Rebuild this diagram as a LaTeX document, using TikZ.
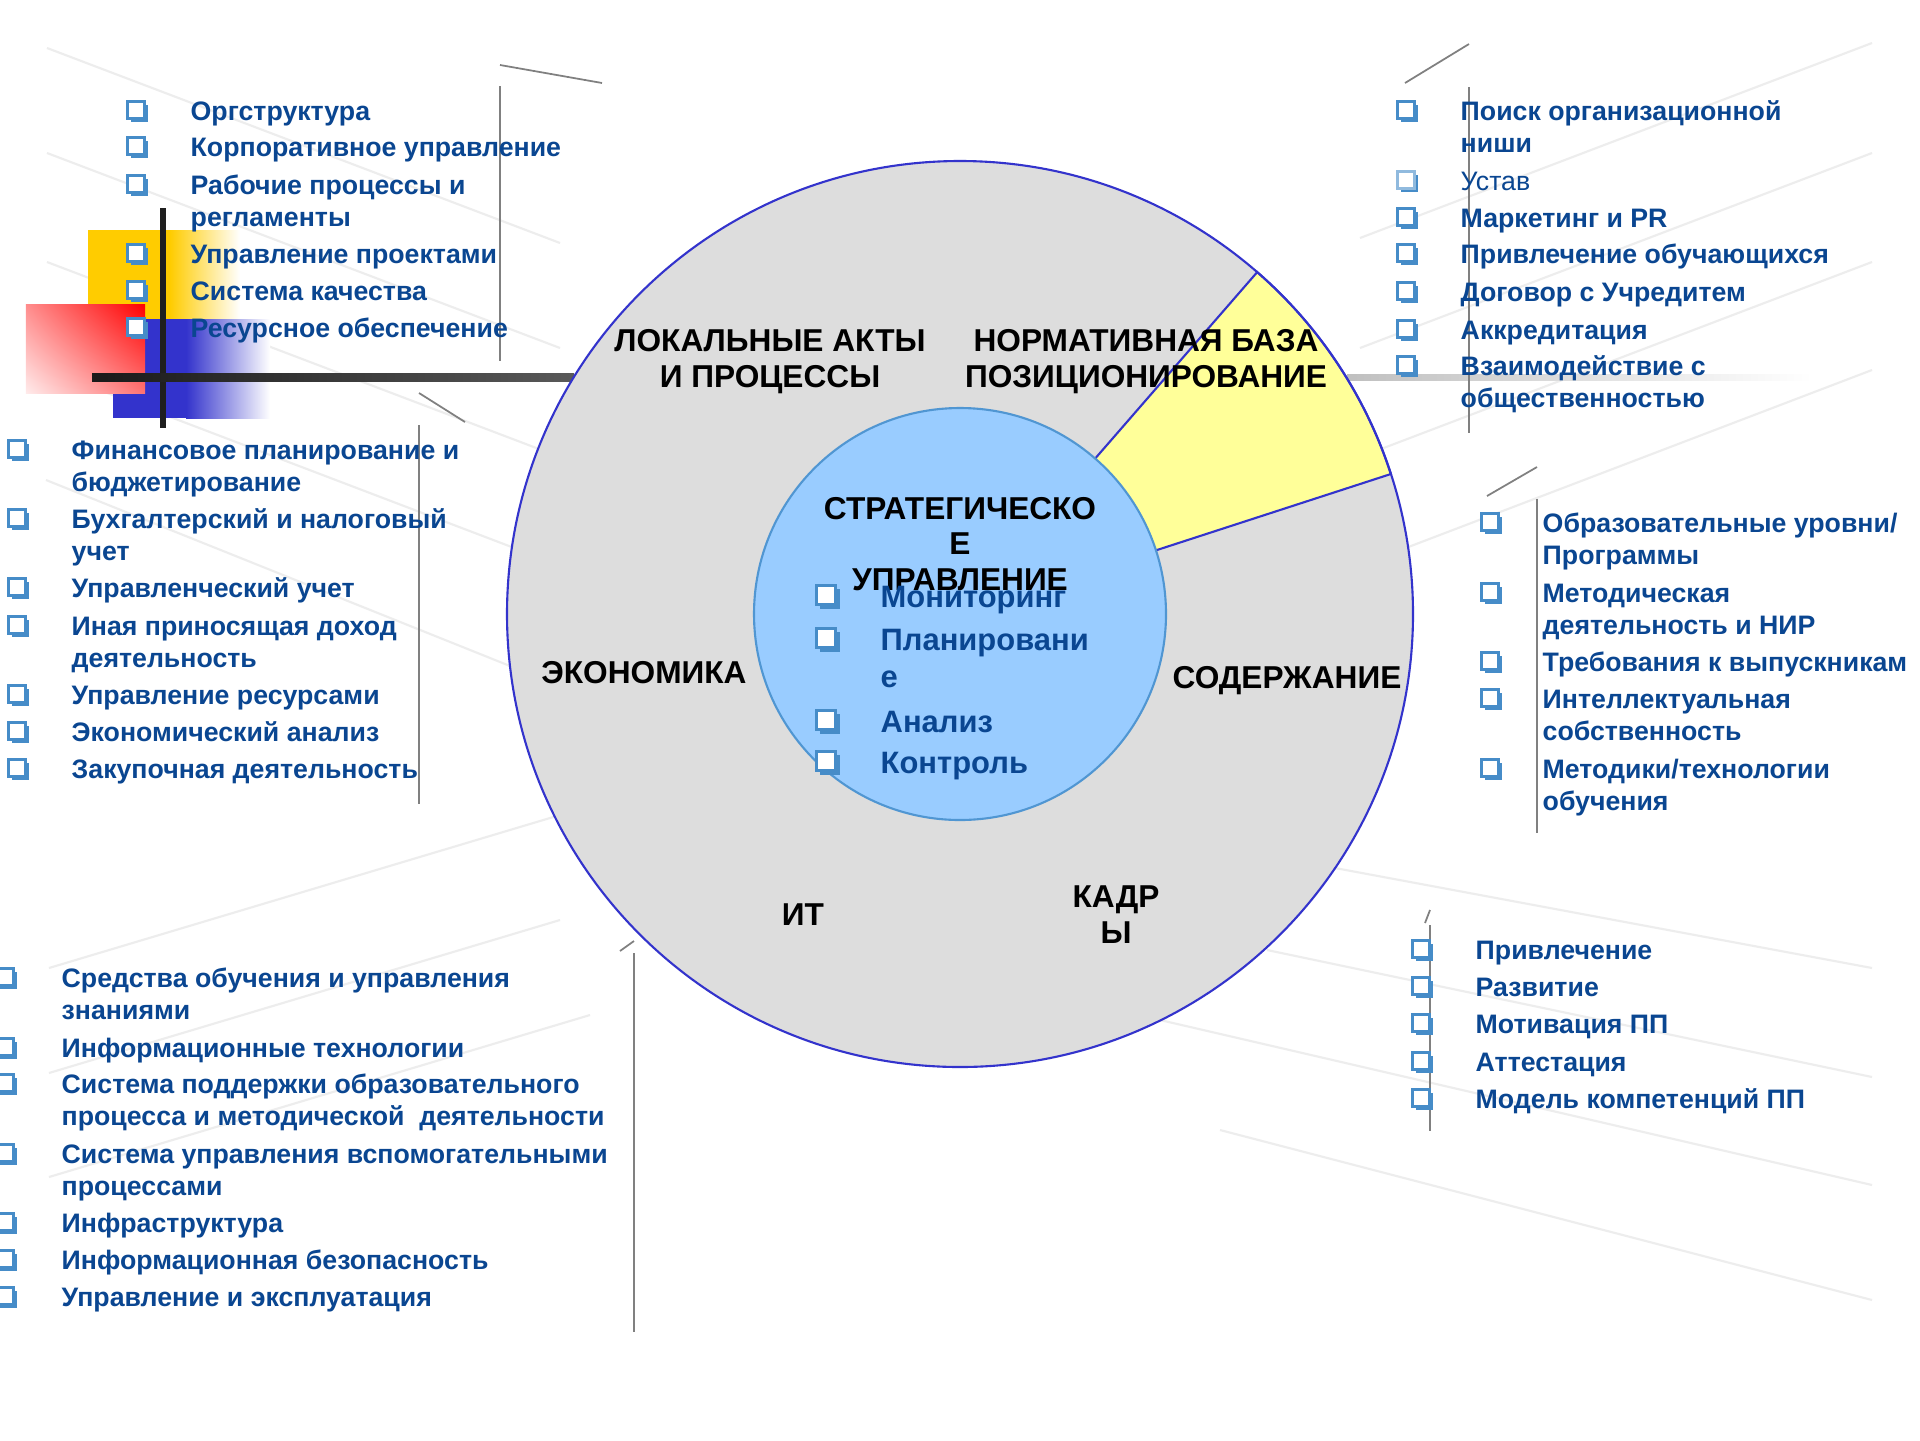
\documentclass[tikz,border=0pt]{standalone}
\usepackage{fontspec}
\setmainfont{Liberation Sans}
\usetikzlibrary{positioning,shadings,shadows}

\definecolor{txtblue}{RGB}{10,70,145}
\definecolor{bulblue}{RGB}{70,140,200}
\definecolor{ringgray}{RGB}{221,221,221}
\definecolor{ringblue}{RGB}{51,51,204}
\definecolor{corefill}{RGB}{153,204,255}
\definecolor{coreline}{RGB}{80,150,210}
\definecolor{wedgeyellow}{RGB}{255,255,153}
\definecolor{decoyellow}{RGB}{255,204,0}
\definecolor{decoblue}{RGB}{51,51,204}

\tikzset{
  item/.style={anchor=base west, align=left, inner sep=0pt, text=txtblue, font=\fontsize{7.6}{9.1}\selectfont\bfseries},
  coreitem/.style={item, font=\fontsize{8.8}{10.5}\selectfont\bfseries},
  bulbox/.style={draw=bulblue, fill=white, line width=0.8pt, inner sep=0pt},
  bul/.style={bulbox, minimum size=0.165cm, yshift=0.10cm, general shadow={fill=bulblue, shadow xshift=1pt, shadow yshift=-1pt}},
  corebul/.style={bulbox, minimum size=0.195cm, yshift=0.12cm, general shadow={fill=bulblue, shadow xshift=1.2pt, shadow yshift=-1.2pt}},
  area/.style={anchor=base, align=center, inner sep=0pt, font=\fontsize{9}{10}\selectfont\bfseries},
  deco/.style={black!50, line width=0.5pt},
  faint/.style={black!7, line width=0.6pt}
}

\begin{document}
\begin{tikzpicture}
  \useasboundingbox (0,0) rectangle (19.2,-14.4);
  \fill[white] (0,0) rectangle (19.2,-14.4);

  % background lines
  \draw[faint] (0.47,-0.48) -- (5.60,-2.43);
  \draw[faint] (0.47,-1.53) -- (5.60,-3.48);
  \draw[faint] (0.47,-2.62) -- (5.60,-4.57);
  \draw[faint] (0.47,-3.70) -- (5.30,-5.54);
  \draw[faint] (0.46,-4.80) -- (5.20,-6.70);
  \draw[faint] (18.72,-0.43) -- (13.60,-2.38);
  \draw[faint] (18.72,-1.53) -- (13.60,-3.48);
  \draw[faint] (18.72,-2.62) -- (13.60,-4.57);
  \draw[faint] (18.72,-3.70) -- (13.90,-5.54);
  \draw[faint] (0.49,-9.68) -- (5.60,-8.15);
  \draw[faint] (0.49,-10.73) -- (5.60,-9.20);
  \draw[faint] (0.49,-11.77) -- (5.90,-10.15);
  \draw[faint] (13.35,-8.68) -- (18.72,-9.68);
  \draw[faint] (12.67,-9.50) -- (18.72,-10.77);
  \draw[faint] (11.60,-10.20) -- (18.72,-11.85);
  \draw[faint] (12.20,-11.30) -- (18.72,-13.00);

  % colour blocks
  \fill[decoyellow] (0.88,-2.30) rectangle (1.70,-3.30);
  \shade[left color=decoyellow, right color=white] (1.70,-2.30) rectangle (2.40,-3.30);
  \fill[decoblue] (1.13,-3.19) rectangle (1.86,-4.18);
  \shade[left color=decoblue, right color=white] (1.86,-3.19) rectangle (2.70,-4.18);
  \shade[upper left=red!45, upper right=red, lower left=red!8, lower right=red!55] (0.26,-3.04) rectangle (1.45,-3.93);
  \fill[black!88] (1.60,-2.08) rectangle (1.66,-4.28);
  \shade[left color=black!90, right color=black!65] (0.92,-3.73) rectangle (5.74,-3.81);
  \shade[left color=black!25, right color=white] (13.47,-3.74) rectangle (18.12,-3.80);

  % side rules
  \draw[deco] (5.00,-0.65) -- (6.02,-0.83);
  \draw[deco] (5.00,-0.86) -- (5.00,-3.61);
  \draw[deco] (14.05,-0.83) -- (14.69,-0.44);
  \draw[deco] (14.69,-0.87) -- (14.69,-4.33);
  \draw[deco] (4.19,-3.93) -- (4.65,-4.22);
  \draw[deco] (4.19,-4.25) -- (4.19,-8.04);
  \draw[deco] (14.87,-4.96) -- (15.37,-4.67);
  \draw[deco] (15.37,-4.99) -- (15.37,-8.33);
  \draw[deco] (6.20,-9.51) -- (6.34,-9.41);
  \draw[deco] (6.34,-9.53) -- (6.34,-13.32);
  \draw[deco] (14.25,-9.23) -- (14.30,-9.10);
  \draw[deco] (14.30,-9.25) -- (14.30,-11.31);

  % rings
  \coordinate (C) at (9.60,-6.14);
  \begin{scope}[shift={(C)}]
    \fill[ringgray] (0,0) circle (4.53);
    \filldraw[fill=wedgeyellow, draw=ringblue, line width=0.6pt] (18:2.06) -- (18:4.53) arc[start angle=18, end angle=49, radius=4.53] -- (49:2.06) -- cycle;
    \draw[ringblue, line width=0.6pt] (0,0) circle (4.53);
    \filldraw[fill=corefill, draw=coreline, line width=0.6pt] (0,0) circle (2.06);
  \end{scope}

  % area labels
  \node[area] (LOC) at (7.70,-3.87) {ЛОКАЛЬНЫЕ АКТЫ\\И ПРОЦЕССЫ};
  \node[area] (NORM) at (11.46,-3.87) {НОРМАТИВНАЯ БАЗА\\ПОЗИЦИОНИРОВАНИЕ};
  \node[area] (STRAT) at (9.60,-5.90) {СТРАТЕГИЧЕСКО\\Е\\УПРАВЛЕНИЕ};
  \node[area] (ECON) at (6.44,-6.83) {ЭКОНОМИКА};
  \node[area] (SOD) at (12.87,-6.88) {СОДЕРЖАНИЕ};
  \node[area] (IT) at (8.03,-9.25) {ИТ};
  \node[area] (KADR) at (11.16,-9.43) {КАДР\\Ы};

  % core list
  \node[corebul] (bC1) at (8.26,-6.07) {};
  \node[coreitem] (C1) at (8.80,-6.07) {Мониторинг};
  \node[corebul] (bC2) at (8.26,-6.50) {};
  \node[coreitem] (C2) at (8.80,-6.87) {Планировани\\е};
  \node[corebul] (bC3) at (8.26,-7.32) {};
  \node[coreitem] (C3) at (8.80,-7.32) {Анализ};
  \node[corebul] (bC4) at (8.26,-7.73) {};
  \node[coreitem] (C4) at (8.80,-7.73) {Контроль};

  % local acts list
  \node[bul] (bO1) at (1.36,-1.20) {};
  \node[item] (O1) at (1.90,-1.20) {Оргструктура};
  \node[bul] (bO2) at (1.36,-1.56) {};
  \node[item] (O2) at (1.90,-1.56) {Корпоративное управление};
  \node[bul] (bO3) at (1.36,-1.94) {};
  \node[item] (O3) at (1.90,-2.26) {Рабочие процессы и\\регламенты};
  \node[bul] (bO4) at (1.36,-2.63) {};
  \node[item] (O4) at (1.90,-2.63) {Управление проектами};
  \node[bul] (bO5) at (1.36,-3.00) {};
  \node[item] (O5) at (1.90,-3.00) {Система качества};
  \node[bul] (bO6) at (1.36,-3.37) {};
  \node[item] (O6) at (1.90,-3.37) {Ресурсное обеспечение};

  % normative list
  \node[bul] (bN1) at (14.06,-1.20) {};
  \node[item] (N1) at (14.60,-1.52) {Поиск организационной\\ниши};
  \node[bul, draw=bulblue!60] (bN2) at (14.06,-1.90) {};
  \node[item] (N2) at (14.60,-1.90) {\mdseries Устав};
  \node[bul] (bN3) at (14.06,-2.27) {};
  \node[item] (N3) at (14.60,-2.27) {Маркетинг и PR};
  \node[bul] (bN4) at (14.06,-2.63) {};
  \node[item] (N4) at (14.60,-2.63) {Привлечение обучающихся};
  \node[bul] (bN5) at (14.06,-3.01) {};
  \node[item] (N5) at (14.60,-3.01) {Договор с Учредитем};
  \node[bul] (bN6) at (14.06,-3.39) {};
  \node[item] (N6) at (14.60,-3.39) {Аккредитация};
  \node[bul] (bN7) at (14.06,-3.75) {};
  \node[item] (N7) at (14.60,-4.07) {Взаимодействие с\\общественностью};

  % economy list
  \node[bul] (bE1) at (0.17,-4.59) {};
  \node[item] (E1) at (0.71,-4.91) {Финансовое планирование и\\бюджетирование};
  \node[bul] (bE2) at (0.17,-5.28) {};
  \node[item] (E2) at (0.71,-5.60) {Бухгалтерский и налоговый\\учет};
  \node[bul] (bE3) at (0.17,-5.97) {};
  \node[item] (E3) at (0.71,-5.97) {Управленческий учет};
  \node[bul] (bE4) at (0.17,-6.35) {};
  \node[item] (E4) at (0.71,-6.67) {Иная приносящая доход\\деятельность};
  \node[bul] (bE5) at (0.17,-7.04) {};
  \node[item] (E5) at (0.71,-7.04) {Управление ресурсами};
  \node[bul] (bE6) at (0.17,-7.41) {};
  \node[item] (E6) at (0.71,-7.41) {Экономический анализ};
  \node[bul] (bE7) at (0.17,-7.78) {};
  \node[item] (E7) at (0.71,-7.78) {Закупочная деятельность};

  % content list
  \node[bul] (bS1) at (14.90,-5.32) {};
  \node[item] (S1) at (15.42,-5.64) {Образовательные уровни/\\Программы};
  \node[bul] (bS2) at (14.90,-6.02) {};
  \node[item] (S2) at (15.42,-6.34) {Методическая\\деятельность и НИР};
  \node[bul] (bS3) at (14.90,-6.71) {};
  \node[item] (S3) at (15.42,-6.71) {Требования к выпускникам};
  \node[bul] (bS4) at (14.90,-7.08) {};
  \node[item] (S4) at (15.42,-7.40) {Интеллектуальная\\собственность};
  \node[bul] (bS5) at (14.90,-7.78) {};
  \node[item] (S5) at (15.42,-8.10) {Методики/технологии\\обучения};

  % IT list
  \node[bul] (bI1) at (0.05,-9.87) {};
  \node[item] (I1) at (0.61,-10.19) {Средства обучения и управления\\знаниями};
  \node[bul] (bI2) at (0.05,-10.57) {};
  \node[item] (I2) at (0.61,-10.57) {Информационные технологии};
  \node[bul] (bI3) at (0.05,-10.93) {};
  \node[item] (I3) at (0.61,-11.25) {Система поддержки образовательного\\процесса и методической\ \ деятельности};
  \node[bul] (bI4) at (0.05,-11.63) {};
  \node[item] (I4) at (0.61,-11.95) {Система управления вспомогательными\\процессами};
  \node[bul] (bI5) at (0.05,-12.32) {};
  \node[item] (I5) at (0.61,-12.32) {Инфраструктура};
  \node[bul] (bI6) at (0.05,-12.69) {};
  \node[item] (I6) at (0.61,-12.69) {Информационная безопасность};
  \node[bul] (bI7) at (0.05,-13.06) {};
  \node[item] (I7) at (0.61,-13.06) {Управление и эксплуатация};

  % staff list
  \node[bul] (bK1) at (14.21,-9.59) {};
  \node[item] (K1) at (14.75,-9.59) {Привлечение};
  \node[bul] (bK2) at (14.21,-9.96) {};
  \node[item] (K2) at (14.75,-9.96) {Развитие};
  \node[bul] (bK3) at (14.21,-10.33) {};
  \node[item] (K3) at (14.75,-10.33) {Мотивация ПП};
  \node[bul] (bK4) at (14.21,-10.71) {};
  \node[item] (K4) at (14.75,-10.71) {Аттестация};
  \node[bul] (bK5) at (14.21,-11.08) {};
  \node[item] (K5) at (14.75,-11.08) {Модель компетенций ПП};
\end{tikzpicture}
\end{document}
